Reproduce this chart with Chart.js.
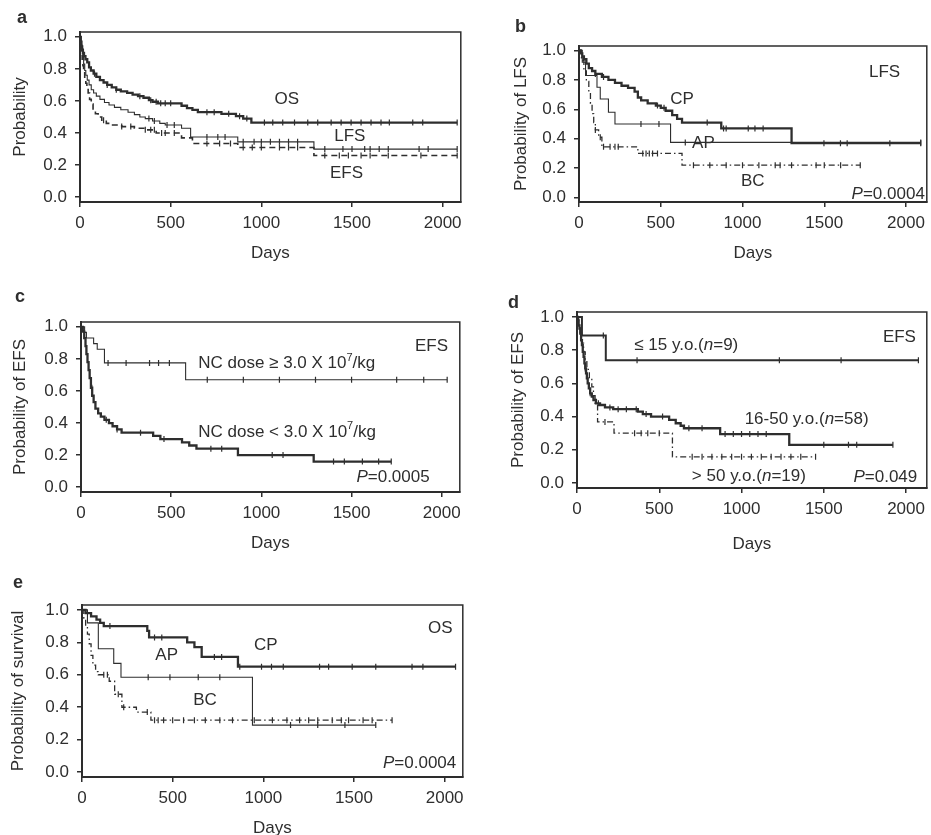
<!DOCTYPE html>
<html><head><meta charset="utf-8">
<script src="https://cdn.jsdelivr.net/npm/chart.js@4.4.1/dist/chart.umd.min.js"></script>
<style>
html,body{margin:0;padding:0;background:#fff;}
body{width:931px;height:835px;position:relative;overflow:hidden;}
canvas{position:absolute;}
</style></head><body>
<canvas id="pa"></canvas><canvas id="pb"></canvas><canvas id="pc"></canvas><canvas id="pd"></canvas><canvas id="pe"></canvas>
<script>
// ---- tick labels ----
const xTicks = [0, 500, 1000, 1500, 2000];
const yTicks = [0, 0.2, 0.4, 0.6, 0.8, 1.0];

// ---- panel a : OS / LFS / EFS ----
const aOsDays = [0,4,8,12,16,22,30,40,50,60,75,90,110,130,150,175,200,225,260,290,320,350,380,400,430,560,590,620,650,780,860,900,945];
const aOsSurv = [1.0,0.97,0.94,0.92,0.90,0.88,0.86,0.84,0.81,0.79,0.77,0.75,0.73,0.715,0.70,0.685,0.67,0.66,0.65,0.64,0.63,0.62,0.605,0.595,0.585,0.57,0.555,0.545,0.53,0.52,0.505,0.49,0.465];
const aOsCens = [80,150,200,330,390,420,445,470,500,700,740,820,880,920,1017,1063,1118,1183,1256,1311,1385,1440,1495,1550,1605,1660,1706,1835,1890,2080];
const aLfsDays = [0,5,10,15,20,26,32,40,50,62,75,90,110,135,160,190,225,265,300,330,360,400,440,470,560,610,870,1290];
const aLfsSurv = [1.0,0.95,0.91,0.87,0.83,0.79,0.76,0.73,0.70,0.67,0.65,0.63,0.61,0.59,0.575,0.56,0.545,0.53,0.515,0.50,0.49,0.475,0.46,0.45,0.43,0.375,0.345,0.30];
const aLfsCens = [380,410,480,520,700,760,800,900,960,1000,1050,1100,1150,1200,1350,1450,1500,1570,1600,1650,1700,1870,1920,2080];
const aEfsDays = [0,4,8,12,16,20,26,32,38,45,53,62,72,85,100,120,145,175,230,300,360,420,560,620,870,1290];
const aEfsSurv = [1.0,0.95,0.90,0.86,0.82,0.78,0.74,0.71,0.68,0.65,0.61,0.58,0.55,0.52,0.50,0.48,0.46,0.45,0.44,0.43,0.42,0.40,0.37,0.335,0.31,0.26];
const aEfsCens = [130,230,280,360,390,410,450,470,520,700,770,830,900,950,1000,1100,1150,1200,1350,1430,1480,1550,1600,1700,1880,2080];

// ---- panel b : LFS by phase ----
const bCpDays = [0,10,20,30,45,60,80,100,140,180,220,260,300,340,360,380,420,470,500,530,570,600,630,870,1300];
const bCpSurv = [1.0,0.98,0.96,0.94,0.91,0.88,0.86,0.84,0.82,0.80,0.78,0.76,0.745,0.72,0.68,0.66,0.64,0.625,0.61,0.59,0.56,0.535,0.51,0.47,0.37];
const bCpCens = [100,150,480,520,784,884,900,1035,1076,1126,1498,1599,1640,1901,2090];
const bApDays = [0,20,40,110,130,180,220,560];
const bApSurv = [1.0,0.92,0.83,0.75,0.67,0.58,0.50,0.375];
const bApCens = [379,489,650,2090];
const bBcDays = [0,15,30,45,60,70,80,90,100,120,140,360,630];
const bBcSurv = [1.0,0.93,0.86,0.79,0.72,0.64,0.57,0.51,0.46,0.41,0.345,0.30,0.22];
const bBcCens = [100,130,150,190,220,240,390,410,430,450,480,700,800,900,1000,1100,1200,1230,1300,1450,1500,1600,1720];

// ---- panel c : EFS by NC dose ----
const cHiDays = [0,20,30,70,90,130,580];
const cHiSurv = [1.0,0.965,0.93,0.895,0.86,0.775,0.67];
const cHiCens = [150,250,380,430,490,700,900,1100,1300,1500,1750,1900,2030];
const cLoDays = [0,10,18,25,30,36,42,48,55,62,70,80,95,110,130,155,175,200,225,400,440,560,600,640,870,1290];
const cLoSurv = [1.0,0.97,0.93,0.88,0.83,0.78,0.73,0.68,0.62,0.57,0.53,0.49,0.46,0.44,0.42,0.40,0.38,0.36,0.34,0.32,0.30,0.28,0.26,0.24,0.20,0.16];
const cLoCens = [60,140,200,330,460,720,780,1060,1120,1400,1460,1560,1650,1720];

// ---- panel d : EFS by age ----
const dYDays = [0,30,175];
const dYSurv = [1.0,0.889,0.74];
const dYCens = [160,365,1230,1605,2075];
const dMDays = [0,5,10,15,20,25,30,35,40,45,50,55,60,65,72,80,90,100,115,140,170,220,370,400,450,560,600,630,650,870,1290];
const dMSurv = [1.0,0.98,0.95,0.93,0.90,0.86,0.83,0.79,0.76,0.72,0.69,0.66,0.63,0.60,0.57,0.54,0.52,0.50,0.48,0.47,0.455,0.445,0.43,0.415,0.40,0.38,0.36,0.345,0.33,0.295,0.23];
const dMCens = [50,80,130,200,250,300,360,420,520,680,760,900,950,1000,1050,1100,1150,1500,1650,1700,1920];
const dODays = [0,10,20,30,40,50,60,75,90,100,110,125,225,580];
const dOSurv = [1.0,0.947,0.895,0.842,0.79,0.737,0.684,0.632,0.579,0.526,0.474,0.368,0.30,0.158];
const dOCens = [170,350,390,430,500,700,760,820,880,940,1000,1060,1120,1180,1240,1300,1360,1450];

// ---- panel e : OS by phase ----
const eCpDays = [0,20,50,80,100,120,360,370,580,620,660,860];
const eCpSurv = [1.0,0.98,0.96,0.94,0.92,0.90,0.87,0.83,0.80,0.77,0.71,0.65];
const eCpCens = [154,400,440,730,770,870,990,1045,1110,1310,1360,1490,1620,1820,1880,2060];
const eApDays = [0,30,90,175,215,940];
const eApSurv = [1.0,0.92,0.76,0.67,0.585,0.29];
const eApCens = [365,485,641,760,1150,1300,1450,1620];
const eBcDays = [0,10,20,30,40,50,60,75,90,150,180,220,300,380];
const eBcSurv = [1.0,0.95,0.90,0.85,0.79,0.72,0.66,0.62,0.60,0.56,0.48,0.40,0.37,0.32];
const eBcCens = [120,140,200,230,360,400,420,450,500,560,620,680,760,830,950,1050,1130,1200,1250,1300,1380,1430,1470,1550,1600,1710];

// ---- styling ----
const INK = '#2e2e2e';
const FONT = '"Liberation Sans", Arial, Helvetica, sans-serif';
Chart.defaults.font.family = FONT;
Chart.defaults.font.size = 17;
Chart.defaults.color = INK;
const THICK = {borderWidth: 2.3};
const THIN = {borderWidth: 1.1};
const DASH = {borderWidth: 1.6, borderDash: [6, 4]};
const DASHDOT = {borderWidth: 1.3, borderDash: [6, 3, 1.5, 3]};

function km(days, surv, cens) {
  const pts = days.map((d, i) => ({x: d, y: surv[i], c: false}));
  cens.forEach(d => {
    let y = surv[0];
    for (let i = 0; i < days.length; i++) if (days[i] <= d) y = surv[i];
    pts.push({x: d, y: y, c: true});
  });
  pts.sort((p, q) => (p.x - q.x) || (p.c - q.c));
  return pts;
}
function series(days, surv, cens, style) {
  return Object.assign({
    data: km(days, surv, cens),
    stepped: true,
    borderColor: INK, backgroundColor: INK,
    pointRadius: c => (c.raw && c.raw.c) ? 3 : 0,
    pointStyle: 'line', pointRotation: 90, pointBorderWidth: 1.2,
    pointBorderColor: INK, pointHoverRadius: 0, fill: false
  }, style);
}
function drawRich(ctx, x, y, parts, align) {
  const ps = parts.map(p => typeof p === 'string' ? {t: p} : p);
  const fonts = ps.map(p => (p.i ? 'italic ' : '') + (p.sup ? '11px ' : '17px ') + FONT);
  const widths = ps.map((p, k) => { ctx.font = fonts[k]; return ctx.measureText(p.t).width; });
  const total = widths.reduce((a, b) => a + b, 0);
  let cx = align === 'left' ? x : align === 'right' ? x - total : x - total / 2;
  ctx.textBaseline = 'middle'; ctx.textAlign = 'left'; ctx.fillStyle = INK;
  ps.forEach((p, k) => { ctx.font = fonts[k]; ctx.fillText(p.t, cx, p.sup ? y - 6 : y); cx += widths[k]; });
}
const Pi = {t: 'P', i: true}, Ni = {t: 'n', i: true};

function panel(p) {
  const cv = document.getElementById(p.id);
  const left = p.frame.l - p.yW - 4;
  const top = p.frame.t - 40;
  const right = Math.min(931, p.frame.r + 4);
  const bottom = p.frame.b + p.xH + 4;
  cv.width = right - left; cv.height = bottom - top;
  cv.style.left = left + 'px'; cv.style.top = top + 'px';
  cv.style.width = (right - left) + 'px'; cv.style.height = (bottom - top) + 'px';
  const deco = {
    id: 'deco_' + p.id,
    afterDatasetsDraw(chart) {
      const {ctx, chartArea: a, scales: {x, y}} = chart;
      ctx.save();
      ctx.strokeStyle = INK; ctx.lineWidth = 1.5;
      ctx.strokeRect(a.left, a.top, a.right - a.left, a.bottom - a.top);
      p.texts.forEach(t => drawRich(ctx, x.getPixelForValue(t.x), y.getPixelForValue(t.y), t.p, t.a));
      ctx.font = 'bold 18px ' + FONT; ctx.textBaseline = 'alphabetic'; ctx.textAlign = 'left';
      ctx.fillText(p.letter, p.lx - left, p.ly - top);
      ctx.restore();
    }
  };
  const axisCommon = {
    grid: {drawOnChartArea: false, drawTicks: true, tickLength: 5, color: INK, lineWidth: 1.5},
    border: {display: true, color: INK, width: 2}
  };
  new Chart(cv, {
    type: 'line',
    data: {datasets: p.datasets},
    options: {
      responsive: false, animation: false, devicePixelRatio: 1, events: [],
      layout: {padding: {left: 4, top: 40, right: right - p.frame.r, bottom: 4}},
      plugins: {legend: {display: false}, tooltip: {enabled: false}},
      scales: {
        x: Object.assign({
          type: 'linear', min: 0, max: p.xMax,
          afterBuildTicks: s => { s.ticks = xTicks.map(v => ({value: v})); },
          afterFit: s => { s.height = p.xH; s.paddingLeft = 0; s.paddingRight = 0; },
          ticks: {padding: 6, color: INK, maxRotation: 0, autoSkip: false, callback: v => String(v)},
          title: {display: true, text: 'Days', color: INK, padding: {top: 0, bottom: 2}}
        }, axisCommon),
        y: Object.assign({
          type: 'linear', min: -0.03, max: 1.03,
          afterBuildTicks: s => { s.ticks = yTicks.map(v => ({value: v})); },
          afterFit: s => { s.width = p.yW; s.paddingTop = 0; s.paddingBottom = 0; },
          ticks: {padding: 8, color: INK, callback: v => Number(v).toFixed(1)},
          title: {display: true, text: p.yTitle, color: INK, padding: {top: 0, bottom: 0}}
        }, axisCommon)
      }
    },
    plugins: [deco]
  });
}

panel({
  id: 'pa', frame: {l: 80, t: 32, r: 461, b: 202}, yW: 70, xH: 64, xMax: 2100,
  yTitle: 'Probability', letter: 'a', lx: 17, ly: 23,
  datasets: [
    series(aEfsDays, aEfsSurv, aEfsCens, DASH),
    series(aLfsDays, aLfsSurv, aLfsCens, THIN),
    series(aOsDays, aOsSurv, aOsCens, THICK)
  ],
  texts: [
    {x: 1140, y: 0.61, a: 'center', p: ['OS']},
    {x: 1488, y: 0.377, a: 'center', p: ['LFS']},
    {x: 1470, y: 0.148, a: 'center', p: ['EFS']}
  ]
});
panel({
  id: 'pb', frame: {l: 579, t: 46, r: 931, b: 202}, yW: 68, xH: 64, xMax: 2127,
  yTitle: 'Probability of LFS', letter: 'b', lx: 515, ly: 32,
  datasets: [
    series(bBcDays, bBcSurv, bBcCens, DASHDOT),
    series(bApDays, bApSurv, bApCens, THIN),
    series(bCpDays, bCpSurv, bCpCens, THICK)
  ],
  texts: [
    {x: 1869, y: 0.853, a: 'center', p: ['LFS']},
    {x: 630, y: 0.669, a: 'center', p: ['CP']},
    {x: 761, y: 0.37, a: 'center', p: ['AP']},
    {x: 1063, y: 0.11, a: 'center', p: ['BC']},
    {x: 2115, y: 0.025, a: 'right', p: [Pi, '=0.0004']}
  ]
});
panel({
  id: 'pc', frame: {l: 81, t: 322, r: 460, b: 492}, yW: 71, xH: 64, xMax: 2100,
  yTitle: 'Probability of EFS', letter: 'c', lx: 15, ly: 302,
  datasets: [
    series(cHiDays, cHiSurv, cHiCens, THIN),
    series(cLoDays, cLoSurv, cLoCens, THICK)
  ],
  texts: [
    {x: 2035, y: 0.877, a: 'right', p: ['EFS']},
    {x: 650, y: 0.77, a: 'left', p: ['NC dose \u2265 3.0 X 10', {t: '7', sup: true}, '/kg']},
    {x: 650, y: 0.345, a: 'left', p: ['NC dose < 3.0 X 10', {t: '7', sup: true}, '/kg']},
    {x: 1933, y: 0.064, a: 'right', p: [Pi, '=0.0005']}
  ]
});
panel({
  id: 'pd', frame: {l: 577, t: 312, r: 931, b: 488}, yW: 69, xH: 69, xMax: 2126,
  yTitle: 'Probability of EFS', letter: 'd', lx: 508, ly: 308,
  datasets: [
    series(dODays, dOSurv, dOCens, DASHDOT),
    series(dMDays, dMSurv, dMCens, THICK),
    series(dYDays, dYSurv, dYCens, {borderWidth: 2})
  ],
  texts: [
    {x: 2060, y: 0.88, a: 'right', p: ['EFS']},
    {x: 348, y: 0.83, a: 'left', p: ['\u2264 15 y.o.(', Ni, '=9)']},
    {x: 1019, y: 0.384, a: 'left', p: ['16-50 y.o.(', Ni, '=58)']},
    {x: 698, y: 0.04, a: 'left', p: ['> 50 y.o.(', Ni, '=19)']},
    {x: 2068, y: 0.035, a: 'right', p: [Pi, '=0.049']}
  ]
});
panel({
  id: 'pe', frame: {l: 82, t: 605, r: 463, b: 777}, yW: 74, xH: 64, xMax: 2100,
  yTitle: 'Probability of survival', letter: 'e', lx: 13, ly: 588,
  datasets: [
    series(eBcDays, eBcSurv, eBcCens, DASHDOT),
    series(eApDays, eApSurv, eApCens, THIN),
    series(eCpDays, eCpSurv, eCpCens, THICK)
  ],
  texts: [
    {x: 2044, y: 0.887, a: 'right', p: ['OS']},
    {x: 1013, y: 0.784, a: 'center', p: ['CP']},
    {x: 467, y: 0.72, a: 'center', p: ['AP']},
    {x: 678, y: 0.445, a: 'center', p: ['BC']},
    {x: 2064, y: 0.054, a: 'right', p: [Pi, '=0.0004']}
  ]
});
</script>
</body></html>
